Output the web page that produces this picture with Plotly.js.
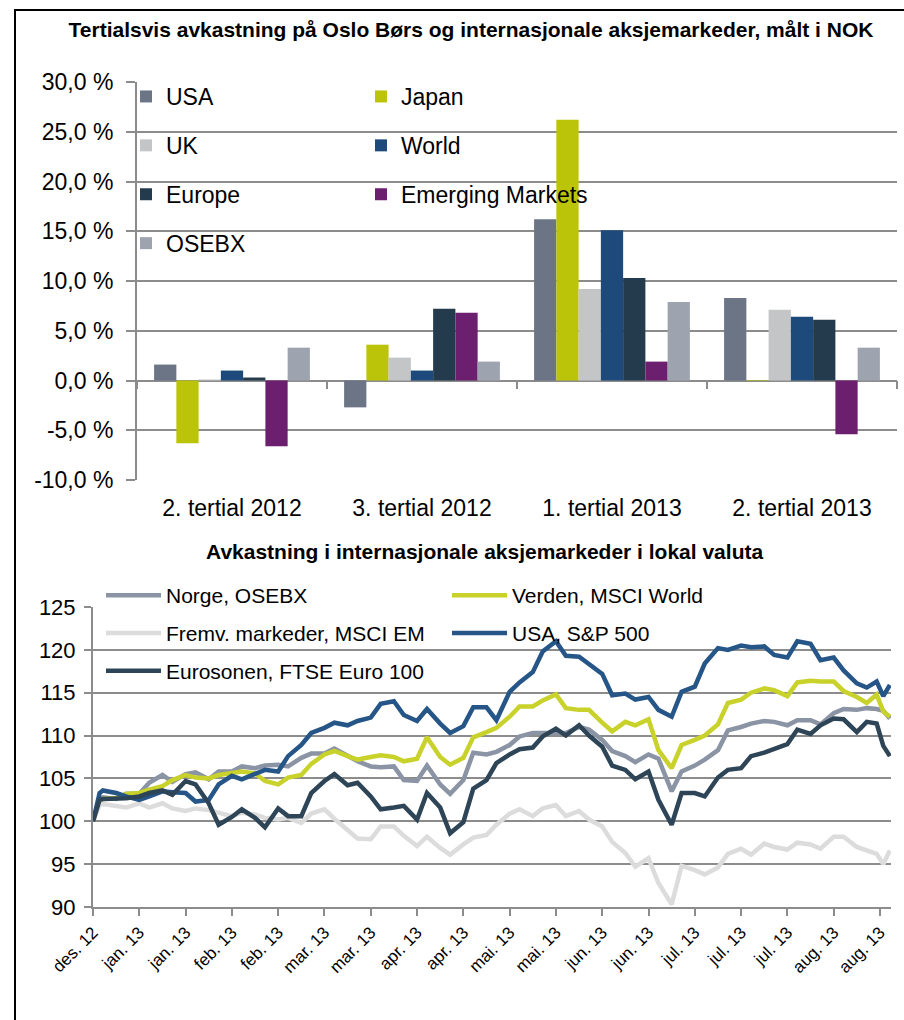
<!DOCTYPE html>
<html><head><meta charset="utf-8">
<script src="https://cdn.plot.ly/plotly-3.0.1.min.js"></script>
<style>html,body{margin:0;padding:0;background:#fff}#chart{width:904px;height:1020px}</style>
</head><body><div id="chart"></div>
<script>
// ---------- Chart 1: tertial returns (NOK) ----------
const periods = ['2. tertial 2012', '3. tertial 2012', '1. tertial 2013', '2. tertial 2013'];
const usa      = [1.6, -2.7, 16.2, 8.3];
const japan    = [-6.3, 3.6, 26.2, 0.05];
const uk       = [0.1, 2.3, 9.2, 7.1];
const world    = [1.0, 1.0, 15.1, 6.4];
const europe   = [0.3, 7.2, 10.3, 6.1];
const emerging = [-6.6, 6.8, 1.9, -5.4];
const osebx    = [3.3, 1.9, 7.9, 3.3];
const pctTicks  = [-10, -5, 0, 5, 10, 15, 20, 25, 30];
const pctLabels = ['-10,0 %', '-5,0 %', '0,0 %', '5,0 %', '10,0 %', '15,0 %', '20,0 %', '25,0 %', '30,0 %'];

// ---------- Chart 2: index, local currency ----------
const dates = ['2012-12-31','2013-01-02','2013-01-03','2013-01-07','2013-01-10','2013-01-14','2013-01-17','2013-01-21','2013-01-24','2013-01-28',
  '2013-01-31','2013-02-04','2013-02-07','2013-02-11','2013-02-14','2013-02-18','2013-02-21','2013-02-25','2013-02-28','2013-03-04',
  '2013-03-07','2013-03-11','2013-03-14','2013-03-18','2013-03-21','2013-03-25','2013-03-28','2013-04-01','2013-04-04','2013-04-08',
  '2013-04-11','2013-04-15','2013-04-18','2013-04-22','2013-04-25','2013-04-29','2013-05-02','2013-05-06','2013-05-09','2013-05-13',
  '2013-05-16','2013-05-20','2013-05-23','2013-05-27','2013-05-30','2013-06-03','2013-06-06','2013-06-10','2013-06-13','2013-06-17',
  '2013-06-20','2013-06-24','2013-06-27','2013-07-01','2013-07-04','2013-07-08','2013-07-11','2013-07-15','2013-07-18','2013-07-22',
  '2013-07-25','2013-07-29','2013-08-01','2013-08-05','2013-08-08','2013-08-12','2013-08-15','2013-08-19','2013-08-22','2013-08-25',
  '2013-08-27','2013-08-29'];
const norge = [100,102.3,102.8,102.6,103.2,103.2,104.5,105.4,104.6,105.5,
  105.7,104.9,105.8,105.8,106.4,106.2,106.5,106.6,106.4,107.4,
  107.9,107.9,108.5,107.7,107.0,106.4,106.3,106.4,104.8,104.7,
  106.5,104.3,103.2,104.8,108.0,107.8,108.1,108.9,109.9,110.3,
  110.3,110.3,110.3,111.0,110.7,109.5,108.2,107.6,106.9,107.8,
  107.3,103.5,105.8,106.5,107.2,108.3,110.6,111.0,111.4,111.7,
  111.6,111.2,111.8,111.8,111.3,112.6,113.1,113.0,113.2,113.1,
  112.9,112.0];
const verden = [100,102.3,102.6,102.7,103.2,103.3,103.7,104.1,104.8,105.4,
  105.1,105.0,105.4,105.6,105.8,105.6,104.7,104.3,105.1,105.4,
  106.7,107.8,108.2,107.6,107.2,107.5,107.7,107.5,107.0,107.3,
  109.8,107.5,106.6,107.4,109.8,110.4,110.9,112.2,113.4,113.4,
  114.1,114.8,113.2,113.0,113.0,111.5,110.5,111.6,111.2,111.9,
  108.3,106.2,108.9,109.5,110.0,111.3,113.8,114.2,115.0,115.5,
  115.3,114.6,116.2,116.4,116.3,116.3,115.2,114.5,113.8,114.8,
  112.8,112.2];
const fremv = [100,101.9,102.0,101.7,101.6,102.1,101.6,102.1,101.5,101.2,
  101.5,101.3,101.0,100.6,101.0,100.8,100.4,100.2,100.4,99.8,
  100.9,101.4,100.3,98.9,98.0,97.9,99.4,99.4,98.3,97.1,
  98.2,96.9,96.1,97.3,98.1,98.4,99.6,100.9,101.4,100.6,
  101.5,101.9,100.6,101.2,100.2,99.4,97.6,96.3,94.7,95.7,
  92.8,90.3,94.8,94.3,93.8,94.6,96.2,96.8,96.1,97.4,
  97.0,96.7,97.5,97.3,96.8,98.2,98.2,97.0,96.6,96.2,
  95.0,96.6];
const sp500 = [100,103.3,103.6,103.3,102.9,102.5,102.9,103.5,103.4,103.3,
  102.3,102.5,104.3,105.3,104.9,105.6,106.0,105.8,107.6,108.9,
  110.3,110.9,111.5,111.2,111.7,112.1,113.7,114.0,112.4,111.7,
  113.1,111.4,110.3,111.1,113.3,113.3,111.8,115.1,116.2,117.4,
  119.8,121.0,119.3,119.2,118.4,117.2,114.7,114.9,114.2,114.5,
  113.0,112.2,115.1,115.7,118.4,120.2,120.0,120.5,120.3,120.4,
  119.4,119.1,121.0,120.7,118.8,119.1,117.6,116.1,115.6,116.3,
  114.6,115.9];
const euro100 = [100,102.5,102.6,102.6,102.7,102.9,103.3,103.6,103.1,104.7,
  104.3,102.1,99.6,100.5,101.4,100.4,99.3,101.5,100.6,100.6,
  103.3,104.7,105.5,104.2,104.5,102.9,101.4,101.6,101.8,100.2,
  103.3,101.6,98.6,99.9,103.8,104.8,106.8,107.8,108.4,108.6,
  109.9,110.8,110.0,111.2,110.0,108.7,106.5,106.0,104.9,105.8,
  102.5,99.6,103.3,103.3,102.9,105.1,106.0,106.2,107.6,108.0,
  108.4,109.0,110.7,110.2,111.2,112.0,111.9,110.4,111.6,111.4,
  108.8,107.6];
const tickDates = ['2012-12-31','2013-01-14','2013-01-28','2013-02-11','2013-02-25','2013-03-11','2013-03-25','2013-04-08','2013-04-22',
  '2013-05-06','2013-05-20','2013-06-03','2013-06-17','2013-07-01','2013-07-15','2013-07-29','2013-08-12','2013-08-26'];
const tickLabels = ['des. 12','jan. 13','jan. 13','feb. 13','feb. 13','mar. 13','mar. 13','apr. 13','apr. 13',
  'mai. 13','mai. 13','jun. 13','jun. 13','jul. 13','jul. 13','jul. 13','aug. 13','aug. 13'];

const FONT = 'Liberation Sans, Arial, sans-serif';
const GRID = '#8c8c8c';
const W = 904, H = 1020;
const px = v => v / W;
const py = v => 1 - v / H;

const barSeries = [
  {name: 'USA', y: usa, color: '#6c7586', legend: 'legend'},
  {name: 'Japan', y: japan, color: '#bcc40a', legend: 'legend2'},
  {name: 'UK', y: uk, color: '#c3c5c7', legend: 'legend'},
  {name: 'World', y: world, color: '#1d4a7b', legend: 'legend2'},
  {name: 'Europe', y: europe, color: '#243a4d', legend: 'legend'},
  {name: 'Emerging Markets', y: emerging, color: '#6c1f6e', legend: 'legend2'},
  {name: 'OSEBX', y: osebx, color: '#9ea3b0', legend: 'legend'}
];
const lineSeries = [
  {name: 'Norge, OSEBX', y: norge, color: '#8b94a4', legend: 'legend3'},
  {name: 'Verden, MSCI World', y: verden, color: '#c8d22a', legend: 'legend4'},
  {name: 'Fremv. markeder, MSCI EM', y: fremv, color: '#dcdcdc', legend: 'legend3'},
  {name: 'USA, S&P 500', y: sp500, color: '#265587', legend: 'legend4'},
  {name: 'Eurosonen, FTSE Euro 100', y: euro100, color: '#2e4557', legend: 'legend3'}
];

const traces = [];
barSeries.forEach((s, i) => traces.push({
  type: 'bar', name: s.name, x: periods, y: s.y, xaxis: 'x', yaxis: 'y',
  marker: {color: s.color, line: {width: 0}}, legend: s.legend, legendgroup: 'b' + i,
  hoverinfo: 'skip'
}));
lineSeries.forEach((s, i) => traces.push({
  type: 'scatter', mode: 'lines', name: s.name, x: dates, y: s.y, xaxis: 'x2', yaxis: 'y2',
  line: {color: s.color, width: 4.5}, legend: s.legend, legendgroup: 'l' + i,
  hoverinfo: 'skip'
}));

const legBase = {xanchor: 'left', yanchor: 'top', bgcolor: 'rgba(0,0,0,0)', traceorder: 'grouped',
  font: {family: FONT, size: 23, color: '#000'}};
const legLine = {xanchor: 'left', yanchor: 'top', bgcolor: 'rgba(0,0,0,0)', traceorder: 'grouped',
  itemwidth: 55, font: {family: FONT, size: 21, color: '#000'}};

const layout = {
  width: W, height: H,
  margin: {l: 0, r: 0, t: 0, b: 0, autoexpand: false},
  paper_bgcolor: '#fff', plot_bgcolor: '#fff',
  font: {family: FONT, color: '#000'},
  barmode: 'group', bargap: 0.18, bargroupgap: 0,
  title: {text: 'Tertialsvis avkastning på Oslo Børs og internasjonale aksjemarkeder, målt i NOK',
    font: {family: FONT, size: 21, weight: 700, color: '#000'},
    x: px(471), xanchor: 'center', xref: 'paper', y: py(30), yanchor: 'middle', yref: 'paper'},
  xaxis: {domain: [px(137), px(897)], anchor: 'free', position: py(380), type: 'category',
    tickson: 'boundaries', ticks: 'outside', ticklen: 8, tickwidth: 2, tickcolor: GRID,
    showline: false, showgrid: false, zeroline: false, ticklabelstandoff: 112,
    tickfont: {family: FONT, size: 23, color: '#000'}, fixedrange: true},
  yaxis: {domain: [py(480), py(82)], anchor: 'x', range: [-10, 30], tickvals: pctTicks, ticktext: pctLabels,
    ticks: 'outside', ticklen: 9, tickwidth: 2, tickcolor: GRID, showline: true, linecolor: GRID, linewidth: 2,
    showgrid: true, gridcolor: GRID, gridwidth: 2, zeroline: true, zerolinecolor: GRID, zerolinewidth: 2,
    ticklabelstandoff: 8, tickfont: {family: FONT, size: 23, color: '#000'}, fixedrange: true},
  xaxis2: {domain: [px(93), px(891)], anchor: 'y2', type: 'date', range: ['2012-12-31', '2013-08-29 08:00'],
    tickmode: 'array', tickvals: tickDates, ticktext: tickLabels, tickangle: -45,
    ticks: 'outside', ticklen: 7, tickwidth: 2, tickcolor: GRID, showline: true, linecolor: GRID, linewidth: 2,
    showgrid: false, zeroline: false, tickfont: {family: FONT, size: 17, color: '#000'}, fixedrange: true},
  yaxis2: {domain: [py(907), py(607)], anchor: 'x2', range: [90, 125], tick0: 90, dtick: 5,
    ticks: 'outside', ticklen: 7, tickwidth: 2, tickcolor: GRID, showline: true, linecolor: GRID, linewidth: 2,
    showgrid: true, gridcolor: GRID, gridwidth: 2, zeroline: false, ticklabelstandoff: 4,
    tickfont: {family: FONT, size: 22, color: '#000'}, fixedrange: true},
  legend: Object.assign({}, legBase, {x: px(126), y: py(75), tracegroupgap: 16}),
  legend2: Object.assign({}, legBase, {x: px(361), y: py(75), tracegroupgap: 16}),
  legend3: Object.assign({}, legLine, {x: px(101), y: py(575), tracegroupgap: 7.5}),
  legend4: Object.assign({}, legLine, {x: px(447), y: py(575), tracegroupgap: 7.5}),
  annotations: [{text: 'Avkastning i internasjonale aksjemarkeder i lokal valuta', xref: 'paper', yref: 'paper',
    x: px(484), y: py(551), xanchor: 'center', yanchor: 'middle', showarrow: false,
    font: {family: FONT, size: 21, weight: 700, color: '#000'}}],
  shapes: [{type: 'rect', xref: 'paper', yref: 'paper', x0: px(15), x1: 1.2, y0: -0.2, y1: py(10),
    line: {color: '#000', width: 2}, fillcolor: 'rgba(0,0,0,0)', layer: 'above'}]
};

Plotly.newPlot('chart', traces, layout, {displayModeBar: false, staticPlot: true});
</script>
</body></html>
